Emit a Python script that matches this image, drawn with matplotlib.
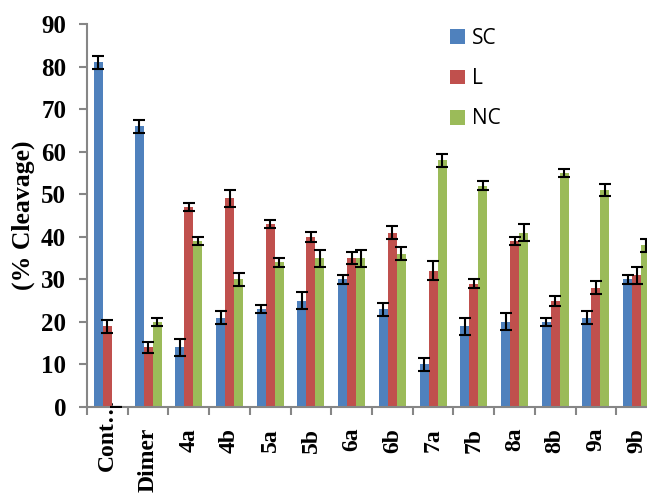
import matplotlib.pyplot as plt
import matplotlib.transforms as mtransforms
import numpy

# cleavage percentages for each compound
compounds = ['Cont…', 'Dimer', '4a', '4b', '5a', '5b', '6a', '6b',
             '7a', '7b', '8a', '8b', '9a', '9b']
sc = [81, 66, 14, 21, 23, 25, 30, 23, 10, 19, 20, 20, 21, 30]
sc_err = [1.5, 1.5, 2.0, 1.5, 1.0, 2.0, 1.0, 1.5, 1.5, 2.0, 2.0, 1.0, 1.5, 1.0]
l = [19, 14, 47, 49, 43, 40, 35, 41, 32, 29, 39, 25, 28, 31]
l_err = [1.5, 1.2, 1.0, 2.0, 1.0, 1.2, 1.5, 1.5, 2.2, 1.0, 1.0, 1.2, 1.5, 2.0]
nc = [0, 20, 39, 30, 34, 35, 35, 36, 58, 52, 41, 55, 51, 38]
nc_err = [0.0, 1.0, 1.0, 1.5, 1.0, 2.0, 2.0, 1.5, 1.5, 1.0, 2.0, 1.0, 1.5, 1.5]

series = [('SC', sc, sc_err, '#4F81BD'),
          ('L', l, l_err, '#C0504D'),
          ('NC', nc, nc_err, '#9BBB59')]

fig = plt.figure(figsize=(6.47, 4.94), dpi=100)
ax = fig.add_axes([0.1345, 0.1761, 0.881, 0.7753])

x = numpy.arange(len(compounds))
w = 0.221
for j, (name, vals, errs, col) in enumerate(series):
    ax.bar(x + (j - 1) * w, vals, w, color=col, label=name, zorder=2)
    ax.errorbar(x + (j - 1) * w, vals, yerr=errs, fmt='none', ecolor='black',
                elinewidth=1.5, capsize=4.3, capthick=1.5, zorder=3)

ax.set_xlim(-0.5, len(compounds) - 0.5)
ax.set_ylim(0, 90)
ax.set_yticks(range(0, 91, 10))

for s in ['top', 'right']:
    ax.spines[s].set_visible(False)
for s in ['left', 'bottom']:
    ax.spines[s].set_color('#868686')
    ax.spines[s].set_linewidth(1.5)

serif = {'family': 'Liberation Serif', 'weight': 'bold', 'size': 18}
ax.set_yticklabels([str(v) for v in range(0, 91, 10)], fontdict=serif)
ax.tick_params(axis='y', direction='out', length=6, width=1.5,
               color='#868686', pad=9)

# category names at centres, tick marks at group boundaries
ax.set_xticks(x)
ax.set_xticklabels(compounds, fontdict=dict(serif, size=17), rotation=90,
                   va='top')
ax.set_xticks(numpy.arange(-0.5, len(compounds), 1.0), minor=True)
ax.tick_params(axis='x', which='major', length=0, pad=15)
ax.tick_params(axis='x', which='minor', direction='out', length=6,
               width=1.5, color='#868686')

# the truncated first name sits closer to the axis
first = ax.get_xticklabels()[0]
first.set_transform(first.get_transform() +
                    mtransforms.ScaledTranslation(0, 22 / 72, fig.dpi_scale_trans))

ax.set_ylabel('(% Cleavage)', fontdict={'family': 'Liberation Serif',
                                         'weight': 'bold', 'size': 18.5})
ax.yaxis.set_label_coords(-0.091, 0.5)

ax.legend(loc='upper left', bbox_to_anchor=(0.6955, 0.943),
          bbox_transform=fig.transFigure, frameon=False,
          prop={'family': 'Open Sans', 'size': 15},
          handlelength=0.72, handleheight=0.72, handletextpad=0.35,
          labelspacing=0.92, borderpad=0, borderaxespad=0)

fig.savefig('out.png', dpi=100)
